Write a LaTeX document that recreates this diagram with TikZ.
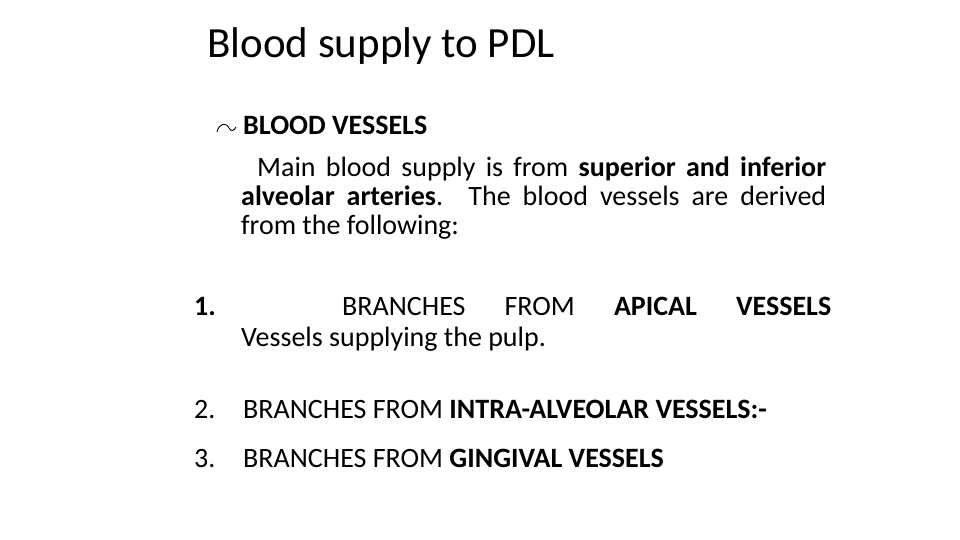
\documentclass[tikz,border=0pt]{standalone}
\usepackage{fontspec}
\setmainfont{Carlito}
\begin{document}
\begin{tikzpicture}[x=1pt,y=-1pt,
  body/.style={anchor=base west,inner sep=0,font=\fontsize{28}{32}\selectfont}]
\useasboundingbox (0,0) rectangle (960,540);
\node[anchor=base west,inner sep=0,font=\fontsize{43}{48}\selectfont] (title) at (207,58) {Blood supply to PDL};
\draw[line width=0.9pt] (217,132) .. controls (219,123) and (226,122) .. (229,128) .. controls (231,132) and (234,131) .. (236,127);
\node[body] (bv) at (243,135) {\textbf{BLOOD VESSELS}};
\node[body] (l1) at (241,176) {\makebox[585pt][s]{\hspace{16pt}Main blood supply is from \textbf{superior and inferior}}};
\node[body] (l2) at (241,205) {\makebox[585pt][s]{\textbf{alveolar arteries}. The blood vessels are derived}};
\node[body] (l3) at (241,234) {from the following:};
\node[body] (n1) at (194,315) {\textbf{1.}};
\node[body] (a1) at (342,315) {\makebox[489pt][s]{BRANCHES FROM \textbf{APICAL} \textbf{VESSELS}}};
\node[body] (a2) at (241,346) {Vessels supplying the pulp.};
\node[body] (n2) at (194,418) {2.};
\node[body] (b2) at (243,418) {BRANCHES FROM \textbf{INTRA-ALVEOLAR VESSELS:-}};
\node[body] (n3) at (194,467) {3.};
\node[body] (b3) at (243,467) {BRANCHES FROM \textbf{GINGIVAL VESSELS}};
\end{tikzpicture}
\end{document}
